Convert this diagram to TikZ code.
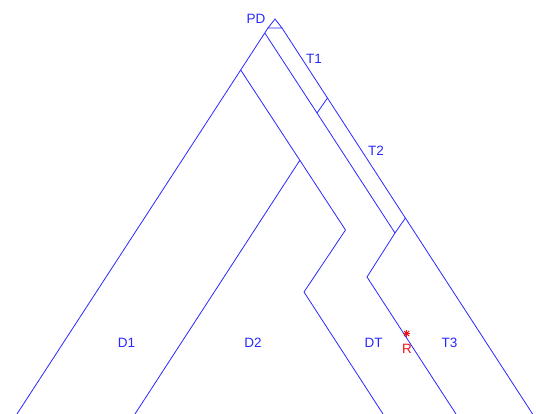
\documentclass[tikz,border=0pt]{standalone}
\usepackage{fontspec}
\setmainfont{Liberation Sans}
\definecolor{lineblue}{RGB}{40,40,255}
\definecolor{markred}{RGB}{235,20,20}
\tikzset{
  branch/.style={draw=lineblue, line width=0.8pt, line join=miter},
  lbl/.style={text=lineblue, font=\fontsize{13.5}{15}\selectfont, inner sep=0pt},
  rlbl/.style={text=markred, font=\fontsize{13.5}{15}\selectfont, inner sep=0pt},
  starline/.style={draw=markred, line width=1.1pt}
}
\begin{document}
\begin{tikzpicture}[x=1pt,y=-1pt]
\useasboundingbox (0,0) rectangle (536,414);
% apex triangle
\coordinate (top) at (275,19);
\coordinate (bl) at (268,28);
\coordinate (br) at (282,28);
\draw[branch] (bl) -- (top) -- (br) -- cycle;
% outer left and right
\coordinate (lend) at (17,414);
\coordinate (rend) at (532.6,414);
\draw[branch] (bl) -- (lend);
\draw[branch] (br) -- (rend);
% T1 / T2 inner line
\coordinate (a1) at (264.8,33);
\coordinate (j1) at (317,113);
\coordinate (o1) at (327.5,98);
\coordinate (j2) at (395,233);
\coordinate (o2) at (405.4,218);
\coordinate (k2) at (367,277);
\coordinate (kend) at (456,414);
\draw[branch] (a1) -- (j1) -- (j2) -- (k2) -- (kend);
\draw[branch] (j1) -- (o1);
\draw[branch] (j2) -- (o2);
% D branch
\coordinate (d0) at (240.7,70);
\coordinate (d1) at (345.5,230);
\coordinate (d2) at (304,292);
\coordinate (dend) at (383,414);
\draw[branch] (d0) -- (d1) -- (d2) -- (dend);
\coordinate (e0) at (300,160);
\coordinate (eend) at (135,414);
\draw[branch] (e0) -- (eend);
% labels
\node[lbl] (pd) at (256,18.5) {PD};
\node[lbl] (t1) at (314,58.5) {T1};
\node[lbl] (t2) at (376,151) {T2};
\node[lbl] (dd1) at (126.5,342.5) {D1};
\node[lbl] (dd2) at (253,342.5) {D2};
\node[lbl] (dt) at (373.5,342.5) {DT};
\node[lbl] (t3) at (449.5,342.5) {T3};
\node[rlbl] (r) at (407,348.5) {R};
% star marker
\coordinate (st) at (406.7,333.5);
\draw[starline] ([xshift=-3.5pt]st) -- ([xshift=3.5pt]st);
\draw[starline] ([yshift=-3.5pt]st) -- ([yshift=3.5pt]st);
\draw[starline] ([shift={(-2.5pt,-2.5pt)}]st) -- ([shift={(2.5pt,2.5pt)}]st);
\draw[starline] ([shift={(-2.5pt,2.5pt)}]st) -- ([shift={(2.5pt,-2.5pt)}]st);
\end{tikzpicture}
\end{document}
